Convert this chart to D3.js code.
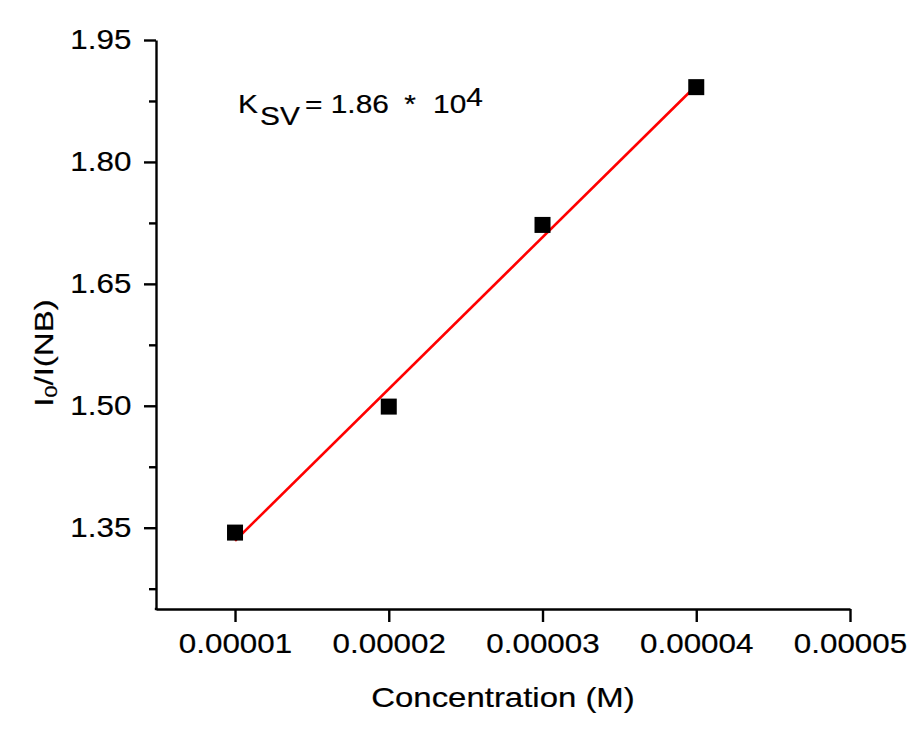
<!DOCTYPE html>
<html>
<head>
<meta charset="utf-8">
<script src="https://cdn.jsdelivr.net/npm/d3@7"></script>
<style>
  html, body { margin: 0; padding: 0; background: #fff; }
  svg { display: block; font-family: "Liberation Sans", Arial, sans-serif; }
  svg text { stroke: #000; stroke-width: 0.2px; }
</style>
</head>
<body>
<svg id="chart" width="919" height="735"></svg>
<script>
// ---- data ----
const concentration = [0.00001, 0.00002, 0.00003, 0.00004];
const ratioI0I = [1.344, 1.499, 1.7225, 1.892];
const fitX = [0.00001, 0.00004];
const fitY = [1.334, 1.894];
const xTicks = [0.00001, 0.00002, 0.00003, 0.00004, 0.00005];
const xTickLabels = ["0.00001", "0.00002", "0.00003", "0.00004", "0.00005"];
const yTicks = [1.35, 1.50, 1.65, 1.80, 1.95];
const yTickLabels = ["1.35", "1.50", "1.65", "1.80", "1.95"];
const yMinorTicks = [1.275, 1.425, 1.575, 1.725, 1.875];
const xDomain = [0.00000486, 0.00005];
const yDomain = [1.25, 1.95];

(function () {
// ---- layout ----
const svg = d3.select("#chart");
const mLeft = 156, mRight = 850, mTop = 40, mBottom = 609;
const x = d3.scaleLinear().domain(xDomain).range([mLeft, mRight]);
const y = d3.scaleLinear().domain(yDomain).range([mBottom, mTop]);

const tickFont = 28, stretch = 1.12;

// x axis
const xAxis = d3.axisBottom(x)
  .tickValues(xTicks)
  .tickFormat((d, i) => xTickLabels[i])
  .tickSize(13).tickPadding(11).tickSizeOuter(0);
const gx = svg.append("g").attr("transform", `translate(0,${mBottom})`).call(xAxis);
gx.select(".domain").attr("stroke", "#000").attr("stroke-width", 2.4);
gx.selectAll(".tick line").attr("stroke", "#000").attr("stroke-width", 2.4);
gx.selectAll(".tick text").attr("font-size", tickFont).attr("fill", "#000")
  .attr("font-family", "Liberation Sans, Arial, sans-serif")
  .attr("transform", `scale(${stretch},1)`);

// y axis (major)
const yAxis = d3.axisLeft(y)
  .tickValues(yTicks)
  .tickFormat((d, i) => yTickLabels[i])
  .tickSize(12).tickPadding(10).tickSizeOuter(0);
const gy = svg.append("g").attr("transform", `translate(${mLeft},0)`).call(yAxis);
gy.select(".domain").attr("stroke", "#000").attr("stroke-width", 2.4);
gy.selectAll(".tick line").attr("stroke", "#000").attr("stroke-width", 2.4);
gy.selectAll(".tick text").attr("font-size", tickFont).attr("fill", "#000")
  .attr("font-family", "Liberation Sans, Arial, sans-serif")
  .attr("transform", `scale(${stretch},1)`);

// y axis minor ticks
const yMinor = d3.axisLeft(y).tickValues(yMinorTicks).tickFormat("").tickSize(7).tickSizeOuter(0);
const gym = svg.append("g").attr("transform", `translate(${mLeft},0)`).call(yMinor);
gym.select(".domain").remove();
gym.selectAll(".tick line").attr("stroke", "#000").attr("stroke-width", 2.4);

// corner join
svg.append("line")
  .attr("x1", mLeft - 1.2).attr("x2", mLeft + 1.2)
  .attr("y1", mBottom).attr("y2", mBottom)
  .attr("stroke", "#000").attr("stroke-width", 2.4);

// fit line
const line = d3.line().x(d => x(d[0])).y(d => y(d[1]));
svg.append("path")
  .datum(fitX.map((v, i) => [v, fitY[i]]))
  .attr("d", line)
  .attr("fill", "none")
  .attr("stroke", "#ff0000")
  .attr("stroke-width", 2.6);

// data squares
const sq = 16;
svg.append("g").selectAll("rect")
  .data(concentration.map((v, i) => [v, ratioI0I[i]]))
  .join("rect")
  .attr("x", d => x(d[0]) - sq / 2)
  .attr("y", d => y(d[1]) - sq / 2)
  .attr("width", sq).attr("height", sq)
  .attr("fill", "#000");

// x title
svg.append("text")
  .attr("transform", `translate(${(mLeft + mRight) / 2},707) scale(1.22,1)`)
  .attr("text-anchor", "middle")
  .attr("font-size", 27)
  .attr("fill", "#000")
  .text("Concentration (M)");

// y title
const yt = svg.append("text")
  .attr("transform", `translate(53,353) rotate(-90) scale(1.27,1)`)
  .attr("text-anchor", "middle")
  .attr("font-size", 26)
  .attr("fill", "#000");
yt.append("tspan").text("I");
yt.append("tspan").attr("font-size", 17).attr("dy", 4).text("0");
yt.append("tspan").attr("dy", -4).text("/I(NB)");

// annotation K_SV
const ann = svg.append("text")
  .attr("transform", `translate(238,113) scale(1.17,1)`)
  .attr("font-size", 25.5)
  .attr("fill", "#000");
ann.append("tspan").attr("x", 0).attr("y", 0).text("K");
ann.append("tspan").attr("x", 18.8).attr("y", 12).text("SV");
ann.append("tspan").attr("x", 57.3).attr("y", 0).text("= 1.86");
ann.append("tspan").attr("x", 142).attr("y", 0).text("*");
ann.append("tspan").attr("x", 166.7).attr("y", 0).text("10");
ann.append("tspan").attr("y", -7).text("4");
})();
</script>
</body>
</html>
